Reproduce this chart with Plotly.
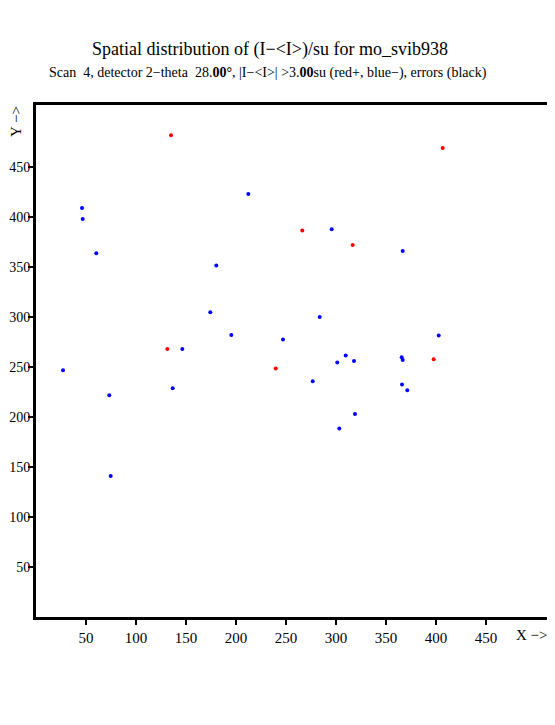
import plotly.graph_objects as go

# Points with (I-<I>)/su > +3 (red)
red_x = [135.0, 406.7, 266.3, 316.7, 131.3, 239.7, 397.7]
red_y = [481.7, 469.0, 386.4, 372.0, 268.0, 248.5, 257.7]

# Points with (I-<I>)/su < -3 (blue)
blue_x = [46.0, 46.7, 60.3, 212.3, 180.3, 174.3, 195.3, 247.0, 146.3, 27.0,
          136.7, 73.3, 74.7, 295.7, 366.7, 283.7, 402.7, 309.7, 301.3, 318.0,
          365.7, 366.7, 276.7, 366.0, 371.3, 319.0, 303.3]
blue_y = [409.0, 398.0, 363.7, 423.0, 351.4, 304.7, 282.0, 277.4, 268.0, 246.7,
          228.7, 221.7, 141.0, 387.7, 366.0, 300.0, 281.4, 261.4, 254.4, 256.0,
          259.7, 257.0, 235.7, 232.4, 226.7, 203.0, 188.4]

x_ticks = [50, 100, 150, 200, 250, 300, 350, 400, 450]
y_ticks = [50, 100, 150, 200, 250, 300, 350, 400, 450]

FONT = "Liberation Serif"

fig = go.Figure()
fig.add_trace(go.Scatter(x=red_x, y=red_y, mode="markers",
                         marker=dict(color="#ff0000", size=4, line=dict(width=0)),
                         hoverinfo="x+y"))
fig.add_trace(go.Scatter(x=blue_x, y=blue_y, mode="markers",
                         marker=dict(color="#0000ff", size=4, line=dict(width=0)),
                         hoverinfo="x+y"))

axis_common = dict(range=[0, 512], showgrid=False, zeroline=False, automargin=False,
                   showline=True, linecolor="black", linewidth=3, mirror=True,
                   ticks="outside", ticklen=5, tickwidth=2, tickcolor="black")

# page body has an 8px margin, so the figure is 8px smaller than the window
fig.update_layout(
    width=547, height=717,
    margin=dict(l=28, r=7, t=97, b=108),
    paper_bgcolor="white", plot_bgcolor="white",
    showlegend=False,
    font=dict(family=FONT, color="black"),
    xaxis=dict(**axis_common, tickvals=x_ticks,
               tickfont=dict(family=FONT, size=15, color="black")),
    yaxis=dict(**axis_common, tickvals=y_ticks, ticklabelstandoff=-5,
               tickfont=dict(family=FONT, size=14, color="black")),
    annotations=[
        dict(text="Spatial distribution of (I\u2212&lt;I&gt;)/su for mo_svib938",
             xref="paper", yref="paper", x=(270 - 36) / 512, y=(617 - 49) / 512,
             xanchor="center", yanchor="middle", showarrow=False,
             font=dict(family=FONT, size=18, color="black")),
        dict(text="Scan  4, detector 2\u2212theta  28.<b>00°</b>, |I\u2212&lt;I&gt;| &gt;3.<b>00</b>su (red+, blue\u2212), errors (black)",
             xref="paper", yref="paper", x=(268 - 36) / 512, y=(617 - 73) / 512,
             xanchor="center", yanchor="middle", showarrow=False,
             font=dict(family=FONT, size=14, color="black")),
        dict(text="X \u2212&gt;", xref="paper", yref="paper",
             x=(532 - 36) / 512, y=(617 - 635) / 512,
             xanchor="center", yanchor="middle", showarrow=False,
             font=dict(family=FONT, size=15, color="black")),
        dict(text="Y \u2212&gt;", xref="paper", yref="paper",
             x=(16 - 36) / 512, y=(617 - 122) / 512, textangle=-90,
             xanchor="center", yanchor="middle", showarrow=False,
             font=dict(family=FONT, size=15, color="black")),
    ],
)

fig.write_html("out.html")
